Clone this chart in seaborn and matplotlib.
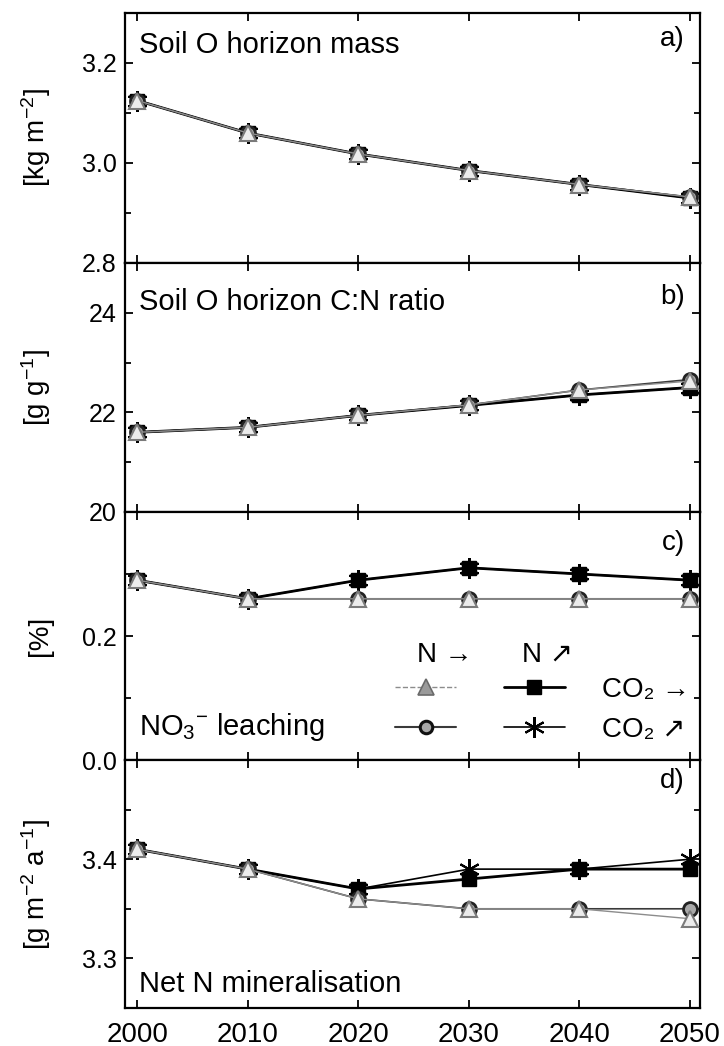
import matplotlib
matplotlib.use("Agg")
import matplotlib.pyplot as plt
from matplotlib.ticker import FixedLocator
from matplotlib.lines import Line2D
import seaborn as sns

sns.set_theme(style="white")
plt.rcParams['font.family'] = ['Liberation Sans', 'DejaVu Sans']
plt.rcParams['mathtext.fontset'] = 'custom'
plt.rcParams['mathtext.rm'] = 'Liberation Sans'
plt.rcParams['mathtext.it'] = 'Liberation Sans:italic'
plt.rcParams['mathtext.bf'] = 'Liberation Sans:bold'
plt.rcParams['mathtext.fallback'] = 'stixsans'
for k in ['text.color', 'axes.labelcolor', 'xtick.color', 'ytick.color']:
    plt.rcParams[k] = 'black'

# ---------------- data ----------------
years = [2000, 2010, 2020, 2030, 2040, 2050]

# a) Soil O horizon mass [kg m-2]
mass_nconst_co2const = [3.125, 3.06, 3.018, 2.985, 2.957, 2.932]
mass_nconst_co2inc = [3.125, 3.06, 3.018, 2.985, 2.957, 2.932]
mass_ninc_co2const = [3.125, 3.06, 3.018, 2.985, 2.957, 2.930]
mass_ninc_co2inc = [3.125, 3.06, 3.018, 2.985, 2.957, 2.930]

# b) Soil O horizon C:N ratio [g g-1]
cn_nconst_co2const = [21.6, 21.7, 21.94, 22.15, 22.45, 22.63]
cn_nconst_co2inc = [21.6, 21.7, 21.94, 22.15, 22.45, 22.66]
cn_ninc_co2const = [21.6, 21.7, 21.94, 22.14, 22.35, 22.5]
cn_ninc_co2inc = [21.6, 21.7, 21.94, 22.14, 22.35, 22.5]

# c) NO3- leaching [%]
no3_nconst_co2const = [0.29, 0.26, 0.26, 0.26, 0.26, 0.26]
no3_nconst_co2inc = [0.29, 0.26, 0.26, 0.26, 0.26, 0.26]
no3_ninc_co2const = [0.29, 0.26, 0.29, 0.31, 0.30, 0.29]
no3_ninc_co2inc = [0.29, 0.26, 0.29, 0.31, 0.30, 0.29]

# d) Net N mineralisation [g m-2 a-1]
min_nconst_co2const = [3.41, 3.39, 3.36, 3.35, 3.35, 3.34]
min_nconst_co2inc = [3.41, 3.39, 3.36, 3.35, 3.35, 3.35]
min_ninc_co2const = [3.41, 3.39, 3.37, 3.38, 3.39, 3.39]
min_ninc_co2inc = [3.41, 3.39, 3.37, 3.39, 3.39, 3.40]

panel_titles = ["Soil O horizon mass", "Soil O horizon C:N ratio",
                "NO$_3$$^{-}$ leaching", "Net N mineralisation"]
panel_letters = ["a)", "b)", "c)", "d)"]
ylabels = ["[kg m$^{-2}$]", "[g g$^{-1}$]", "[%]", "[g m$^{-2}$ a$^{-1}$]"]
yticks_major = [[2.8, 3.0, 3.2], [20, 22, 24], [0.0, 0.2], [3.3, 3.4]]
yticklabels = [["2.8", "3.0", "3.2"], ["20", "22", "24"], ["0.0", "0.2"], ["3.3", "3.4"]]
yminor = [[2.9, 3.1, 3.3], [21, 23, 25], [0.1, 0.3, 0.4], [3.35, 3.45, 3.5]]
ylims = [(2.8, 3.3), (20, 25), (0.0, 0.4), (3.25, 3.5)]

series = [
    [mass_ninc_co2const, mass_ninc_co2inc, mass_nconst_co2inc, mass_nconst_co2const],
    [cn_ninc_co2const, cn_ninc_co2inc, cn_nconst_co2inc, cn_nconst_co2const],
    [no3_ninc_co2const, no3_ninc_co2inc, no3_nconst_co2inc, no3_nconst_co2const],
    [min_ninc_co2const, min_ninc_co2inc, min_nconst_co2inc, min_nconst_co2const],
]

# styles (order: square, star, circle, triangle)
styles = [
    dict(color="black", lw=2.0, marker="s", markersize=10, mfc="black", mec="black", mew=1.0),
    dict(color="black", lw=1.2, marker=(6, 2, 0), markersize=15, mfc="black", mec="black", mew=1.5),
    dict(color="#3a3a3a", lw=1.2, marker="o", markersize=10, mfc="#a8a8a8", mec="#222222", mew=2.0),
    dict(color="#8c8c8c", lw=1.0, marker="^", markersize=12, mfc="#ececec", mec="#7a7a7a", mew=1.5),
]

fig = plt.figure(figsize=(7.24, 10.46), dpi=100)
left, right = 125 / 724, 700 / 724
tops = [13, 263, 512, 760]
bots = [263, 512, 760, 1008]
axes = []
for i in range(4):
    y0 = 1 - bots[i] / 1046
    h = (bots[i] - tops[i]) / 1046
    ax = fig.add_axes([left, y0, right - left, h])
    axes.append(ax)

text_pos = [(0.84, 0.896), (0.811, 0.863), (0.10, 0.875), (0.065, 0.915)]

for i, ax in enumerate(axes):
    for vals, st in zip(series[i], styles):
        sns.lineplot(x=years, y=vals, ax=ax, color=st["color"], linewidth=st["lw"],
                     marker=st["marker"], markersize=st["markersize"],
                     markerfacecolor=st["mfc"], markeredgecolor=st["mec"],
                     markeredgewidth=st["mew"], clip_on=False, zorder=3)
    ax.set_xlim(1998.9, 2050.9)
    ax.set_ylim(*ylims[i])
    ax.set_yticks(yticks_major[i])
    ax.set_yticklabels(yticklabels[i])
    ax.yaxis.set_minor_locator(FixedLocator(yminor[i]))
    ax.set_xticks(years)
    ax.tick_params(axis="both", which="both", direction="in", top=True, right=True,
                   left=True, bottom=True, color="black")
    ax.tick_params(axis="both", which="major", length=6, width=1.3)
    ax.tick_params(axis="both", which="minor", length=4, width=1.3)
    ax.tick_params(axis="y", labelsize=18, pad=6)
    ax.tick_params(axis="x", labelsize=20, pad=10)
    if i < 3:
        ax.tick_params(axis="x", labelbottom=False)
    for sp in ax.spines.values():
        sp.set_linewidth(1.6)
        sp.set_color("black")
    ax.set_ylabel(ylabels[i], fontsize=20)
    ax.yaxis.set_label_coords(-0.126, 0.5)
    ax.text(0.024, text_pos[i][0], panel_titles[i], transform=ax.transAxes,
            fontsize=21, ha="left", va="baseline")
    ax.text(0.974, text_pos[i][1], panel_letters[i], transform=ax.transAxes,
            fontsize=20, ha="right", va="center")
    ax.grid(False)
    ax.set_facecolor("white")

# legend in panel c
axc = axes[2]
handles = [
    Line2D([], [], color=styles[3]["color"], lw=styles[3]["lw"], linestyle="--",
           marker="^", markersize=11, mfc="#9a9a9a", mec="#6a6a6a", mew=1.2),
    Line2D([], [], color=styles[2]["color"], lw=1.5, marker="o", markersize=9,
           mfc="#a8a8a8", mec="#111111", mew=2.2),
    Line2D([], [], color="black", lw=2.0, marker="s", markersize=10, mfc="black", mec="black"),
    Line2D([], [], color="black", lw=1.2, marker=(6, 2, 0), markersize=15, mec="black", mew=1.5),
]
labels = ["", "", "CO\u2082 \u2192", "CO\u2082 \u2197"]
leg = axc.legend(handles, labels, ncol=2, frameon=False, fontsize=20,
                 loc="upper left", bbox_to_anchor=(0.47, 0.335),
                 handlelength=2.2, handletextpad=1.35, columnspacing=0.35,
                 labelspacing=0.5, borderpad=0.0, borderaxespad=0.0)
axc.text(0.508, 0.395, "N \u2192", transform=axc.transAxes, fontsize=20, ha="left", va="baseline")
axc.text(0.69, 0.395, "N \u2197", transform=axc.transAxes, fontsize=20, ha="left", va="baseline")

fig.savefig("out.png", dpi=100, facecolor="white")
